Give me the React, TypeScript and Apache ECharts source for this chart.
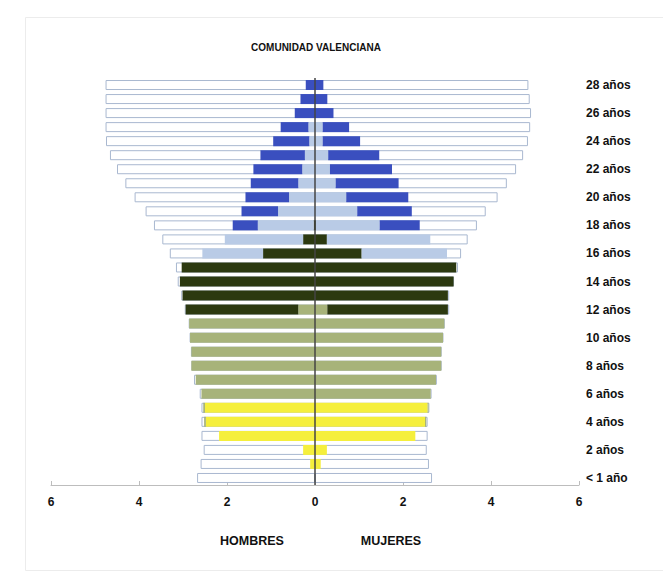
import React, { useEffect, useRef } from "react";
import * as echarts from "echarts";

const ages = [
  "< 1 año", "1 año", "2 años", "3 años", "4 años", "5 años", "6 años", "7 años", "8 años", "9 años",
  "10 años", "11 años", "12 años", "13 años", "14 años", "15 años", "16 años", "17 años", "18 años", "19 años",
  "20 años", "21 años", "22 años", "23 años", "24 años", "25 años", "26 años", "27 años", "28 años",
];

const xTicks = [-6, -4, -2, 0, 2, 4, 6];

// Population (total) per age, men (left) and women (right)
const hombresTotal = [2.68, 2.6, 2.53, 2.58, 2.58, 2.58, 2.62, 2.75, 2.81, 2.82, 2.85, 2.87, 2.96, 3.04, 3.12, 3.16, 3.3, 3.47, 3.66, 3.85, 4.1, 4.31, 4.5, 4.66, 4.75, 4.76, 4.76, 4.76, 4.76];
const mujeresTotal = [2.66, 2.59, 2.54, 2.56, 2.56, 2.6, 2.65, 2.77, 2.88, 2.88, 2.92, 2.95, 3.05, 3.05, 3.16, 3.25, 3.32, 3.47, 3.68, 3.88, 4.15, 4.36, 4.57, 4.73, 4.84, 4.89, 4.91, 4.88, 4.85];

// Enrolled students by level
const hombresInfantil = [0, 0.11, 0.27, 2.18, 2.48, 2.5, 0, 0, 0, 0, 0, 0, 0, 0, 0, 0, 0, 0, 0, 0, 0, 0, 0, 0, 0, 0, 0, 0, 0];
const mujeresInfantil = [0, 0.13, 0.27, 2.28, 2.5, 2.56, 0, 0, 0, 0, 0, 0, 0, 0, 0, 0, 0, 0, 0, 0, 0, 0, 0, 0, 0, 0, 0, 0, 0];
const hombresPrimaria = [0, 0, 0, 0, 0.04, 0.04, 2.58, 2.71, 2.81, 2.81, 2.84, 2.86, 0.38, 0, 0, 0, 0, 0, 0, 0, 0, 0, 0, 0, 0, 0, 0, 0, 0];
const mujeresPrimaria = [0, 0, 0, 0, 0.03, 0.02, 2.63, 2.75, 2.87, 2.87, 2.91, 2.94, 0.28, 0, 0, 0, 0, 0, 0, 0, 0, 0, 0, 0, 0, 0, 0, 0, 0];
const hombresESO = [0, 0, 0, 0, 0, 0, 0, 0, 0, 0, 0, 0, 2.56, 3.01, 3.07, 3.03, 1.18, 0.27, 0.03, 0, 0, 0, 0, 0, 0, 0, 0, 0, 0];
const mujeresESO = [0, 0, 0, 0, 0, 0, 0, 0, 0, 0, 0, 0, 2.74, 3.02, 3.15, 3.21, 1.06, 0.27, 0.02, 0, 0, 0, 0, 0, 0, 0, 0, 0, 0];
const hombresPostOblig = [0, 0, 0, 0, 0, 0, 0, 0, 0, 0, 0, 0, 0, 0, 0, 0, 1.38, 1.78, 1.27, 0.84, 0.59, 0.38, 0.29, 0.23, 0.13, 0.15, 0, 0, 0];
const mujeresPostOblig = [0, 0, 0, 0, 0, 0, 0, 0, 0, 0, 0, 0, 0, 0, 0, 0, 1.94, 2.35, 1.45, 0.96, 0.71, 0.47, 0.34, 0.3, 0.175, 0.175, 0, 0, 0];
const hombresUniversidad = [0, 0, 0, 0, 0, 0, 0, 0, 0, 0, 0, 0, 0, 0, 0, 0, 0, 0, 0.57, 0.83, 0.99, 1.08, 1.11, 1.01, 0.82, 0.63, 0.46, 0.33, 0.21];
const mujeresUniversidad = [0, 0, 0, 0, 0, 0, 0, 0, 0, 0, 0, 0, 0, 0, 0, 0, 0, 0, 0.91, 1.24, 1.41, 1.43, 1.41, 1.16, 0.85, 0.6, 0.42, 0.28, 0.19];

const FONT = "'Liberation Sans', Arial, sans-serif";
const BAR_W = 10;

export default function App() {
  const ref = useRef<HTMLDivElement>(null);

  useEffect(() => {
    if (!ref.current) return;
    const chart = echarts.init(ref.current, undefined, { renderer: "svg" });

    const neg = (a: number[]) => a.map((v) => -v);

    const level = (name: string, data: number[], color: string) => ({
      name,
      type: "bar",
      stack: "lev",
      barWidth: BAR_W,
      barGap: "-100%",
      data,
      itemStyle: { color, borderWidth: 0 },
      silent: true,
    });

    const total = (name: string, data: number[]) => ({
      name,
      type: "bar",
      stack: "tot",
      barWidth: BAR_W,
      barGap: "-100%",
      data,
      itemStyle: { color: "#ffffff", borderColor: "#a9b8d0", borderWidth: 1 },
      silent: true,
    });

    const series: any[] = [
      total("Hombres total", neg(hombresTotal)),
      total("Mujeres total", mujeresTotal),
      level("H Infantil", neg(hombresInfantil), "#f5ef3c"),
      level("M Infantil", mujeresInfantil, "#f5ef3c"),
      level("H Primaria", neg(hombresPrimaria), "#a7b37a"),
      level("M Primaria", mujeresPrimaria, "#a7b37a"),
      level("H ESO", neg(hombresESO), "#2c3910"),
      level("M ESO", mujeresESO, "#2c3910"),
      level("H Postobligatoria", neg(hombresPostOblig), "#b9cbe6"),
      level("M Postobligatoria", mujeresPostOblig, "#b9cbe6"),
      level("H Universidad", neg(hombresUniversidad), "#3a4fbf"),
      level("M Universidad", mujeresUniversidad, "#3a4fbf"),
    ];
    series[series.length - 1].markLine = {
      silent: true,
      symbol: "none",
      label: { show: false },
      lineStyle: { color: "#454545", width: 1.5, type: "solid" },
      data: [{ xAxis: 0 }],
    };

    const label = (text: string, x: number, y: number, size: number) => ({
      type: "text",
      silent: true,
      style: {
        text,
        x,
        y,
        align: "center",
        verticalAlign: "middle",
        fontFamily: FONT,
        fontWeight: "bold",
        fontSize: size,
        fill: "#111111",
      },
    });

    chart.setOption({
      animation: false,
      backgroundColor: "#ffffff",
      textStyle: { fontFamily: FONT },
      grid: { left: 51, right: 84, top: 78, bottom: 89, containLabel: false },
      graphic: [
        {
          type: "rect",
          left: 23,
          top: 15,
          shape: { width: 700, height: 553 },
          style: { fill: "none", stroke: "#ececec", lineWidth: 1 },
          silent: true,
        },
        label("COMUNIDAD VALENCIANA", 316, 47, 10),
        label("HOMBRES", 252, 541, 12.5),
        label("MUJERES", 391, 541, 12.5),
      ],
      xAxis: {
        type: "value",
        min: xTicks[0],
        max: xTicks[xTicks.length - 1],
        interval: 2,
        axisLine: { show: true, onZero: false, lineStyle: { color: "#bdbdbd", width: 1 } },
        axisTick: { show: true, inside: true, length: 4, lineStyle: { color: "#bdbdbd" } },
        splitLine: { show: false },
        axisLabel: {
          margin: 11,
          fontFamily: FONT,
          fontWeight: "bold",
          fontSize: 12,
          color: "#111111",
          formatter: (v: number) => String(Math.abs(v)),
        },
      },
      yAxis: {
        type: "category",
        data: ages,
        position: "right",
        axisLine: { show: false },
        axisTick: { show: false },
        splitLine: { show: false },
        axisLabel: {
          interval: 1,
          margin: 7,
          fontFamily: FONT,
          fontWeight: "bold",
          fontSize: 12,
          color: "#111111",
        },
      },
      series,
    });

    return () => chart.dispose();
  }, []);

  return (
    <div
      ref={ref}
      style={{ position: "absolute", left: 0, top: 0, width: 663, height: 574, background: "#fff" }}
    />
  );
}
